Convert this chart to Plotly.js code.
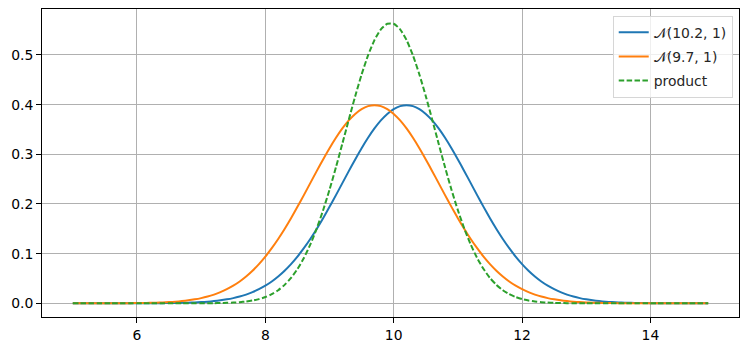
<!DOCTYPE html>
<html>
<head>
<meta charset="utf-8">
<script src="https://cdn.plot.ly/plotly-3.0.1.min.js"></script>
<style>html,body{margin:0;padding:0;background:#fff;}#chart{width:749px;height:351px;}</style>
</head>
<body>
<div id="chart"></div>
<script>
const xValues = [5.0,5.1,5.2,5.3,5.4,5.5,5.6,5.7,5.8,5.9,6.0,6.1,6.2,6.3,6.4,6.5,6.6,6.7,6.8,6.9,
7.0,7.1,7.2,7.3,7.4,7.5,7.6,7.7,7.8,7.9,8.0,8.1,8.2,8.3,8.4,8.5,8.6,8.7,8.8,8.9,
9.0,9.1,9.2,9.3,9.4,9.5,9.6,9.7,9.8,9.9,10.0,10.1,10.2,10.3,10.4,10.5,10.6,10.7,10.8,10.9,
11.0,11.1,11.2,11.3,11.4,11.5,11.6,11.7,11.8,11.9,12.0,12.1,12.2,12.3,12.4,12.5,12.6,12.7,12.8,12.9,
13.0,13.1,13.2,13.3,13.4,13.5,13.6,13.7,13.8,13.9,14.0,14.1,14.2,14.3,14.4,14.5,14.6,14.7,14.8,14.9];

const seriesA = [0,0,0,0,0,0.00001,0.00001,0.00002,0.00002,0.00004,
0.00006,0.00009,0.00013,0.00020,0.00029,0.00042,0.00061,0.00087,0.00123,0.00172,
0.00238,0.00327,0.00443,0.00595,0.00792,0.01042,0.01358,0.01753,0.02239,0.02833,
0.03547,0.04398,0.05399,0.06562,0.07895,0.09405,0.11092,0.12952,0.14973,0.17137,
0.19419,0.21785,0.24197,0.26609,0.28969,0.31225,0.33322,0.35207,0.36827,0.38139,
0.39104,0.39695,0.39894,0.39695,0.39104,0.38139,0.36827,0.35207,0.33322,0.31225,
0.28969,0.26609,0.24197,0.21785,0.19419,0.17137,0.14973,0.12952,0.11092,0.09405,
0.07895,0.06562,0.05399,0.04398,0.03547,0.02833,0.02239,0.01753,0.01358,0.01042,
0.00792,0.00595,0.00443,0.00327,0.00238,0.00172,0.00123,0.00087,0.00061,0.00042,
0.00029,0.00020,0.00013,0.00009,0.00006,0.00004,0.00002,0.00002,0.00001,0.00001];

const seriesB = [0.00001,0.00001,0.00002,0.00002,0.00004,0.00006,0.00009,0.00013,0.00020,0.00029,
0.00042,0.00061,0.00087,0.00123,0.00172,0.00238,0.00327,0.00443,0.00595,0.00792,
0.01042,0.01358,0.01753,0.02239,0.02833,0.03547,0.04398,0.05399,0.06562,0.07895,
0.09405,0.11092,0.12952,0.14973,0.17137,0.19419,0.21785,0.24197,0.26609,0.28969,
0.31225,0.33322,0.35207,0.36827,0.38139,0.39104,0.39695,0.39894,0.39695,0.39104,
0.38139,0.36827,0.35207,0.33322,0.31225,0.28969,0.26609,0.24197,0.21785,0.19419,
0.17137,0.14973,0.12952,0.11092,0.09405,0.07895,0.06562,0.05399,0.04398,0.03547,
0.02833,0.02239,0.01753,0.01358,0.01042,0.00792,0.00595,0.00443,0.00327,0.00238,
0.00172,0.00123,0.00087,0.00061,0.00042,0.00029,0.00020,0.00013,0.00009,0.00006,
0.00004,0.00002,0.00002,0.00001,0.00001,0,0,0,0,0];

const seriesProduct = [0,0,0,0,0,0,0,0,0,0,
0,0,0,0,0,0,0.00001,0.00001,0.00003,0.00005,
0.00009,0.00017,0.00029,0.00050,0.00085,0.00139,0.00226,0.00357,0.00555,0.00844,
0.01259,0.01841,0.02639,0.03707,0.05105,0.06892,0.09119,0.11826,0.15034,0.18735,
0.22881,0.27394,0.32147,0.36977,0.41692,0.46078,0.49915,0.53001,0.55164,0.56278,
0.56278,0.55164,0.53001,0.49915,0.46078,0.41692,0.36977,0.32147,0.27394,0.22881,
0.18735,0.15034,0.11826,0.09119,0.06892,0.05105,0.03707,0.02639,0.01841,0.01259,
0.00844,0.00555,0.00357,0.00226,0.00139,0.00085,0.00050,0.00029,0.00017,0.00009,
0.00005,0.00003,0.00001,0.00001,0,0,0,0,0,0,
0,0,0,0,0,0,0,0,0,0];

const seriesNames = ["\u{1D4A9}(10.2, 1)", "\u{1D4A9}(9.7, 1)", "product"];
const xTickVals = [6, 8, 10, 12, 14];
const yTickVals = [0, 0.1, 0.2, 0.3, 0.4, 0.5];
const yTickText = ["0.0", "0.1", "0.2", "0.3", "0.4", "0.5"];

const font = {family: "DejaVu Sans", size: 13.9, color: "#000"};
const legendFont = {family: "DejaVu Sans", size: 13.9, color: "#262626"};

const traces = [
  {x: xValues, y: seriesA, name: seriesNames[0], legendgroup: "a", type: "scatter", mode: "lines",
   line: {color: "#1f77b4", width: 2, shape: "spline", smoothing: 0.6}},
  {x: xValues, y: seriesB, name: seriesNames[1], legendgroup: "b", type: "scatter", mode: "lines",
   line: {color: "#ff7f0e", width: 2, shape: "spline", smoothing: 0.6}},
  {x: xValues, y: seriesProduct, name: seriesNames[2], legendgroup: "c", type: "scatter", mode: "lines",
   line: {color: "#2ca02c", width: 2, dash: "5.5px,2.4px", shape: "spline", smoothing: 0.6}}
];

const axisCommon = {
  showline: true, linecolor: "#000", linewidth: 1, mirror: true,
  ticks: "outside", ticklen: 5, tickwidth: 1, tickcolor: "#000",
  showgrid: true, gridcolor: "#b0b0b0", gridwidth: 1, zeroline: false,
  tickfont: font
};

const layout = {
  width: 749, height: 351,
  margin: {l: 42, r: 10, t: 9, b: 34},
  paper_bgcolor: "#fff", plot_bgcolor: "#fff",
  font: font,
  showlegend: true,
  legend: {x: 0.991, y: 0.978, xanchor: "right", yanchor: "top",
    bgcolor: "rgba(255,255,255,0.8)", bordercolor: "#d6d6d6", borderwidth: 1,
    font: legendFont, itemwidth: 30, traceorder: "grouped", tracegroupgap: 3},
  xaxis: Object.assign({}, axisCommon, {range: [4.52, 15.38], tickvals: xTickVals}),
  yaxis: Object.assign({}, axisCommon, {range: [-0.0276, 0.5926], tickvals: yTickVals, ticktext: yTickText})
};

Plotly.newPlot("chart", traces, layout, {displayModeBar: false, staticPlot: true});
</script>
</body>
</html>
